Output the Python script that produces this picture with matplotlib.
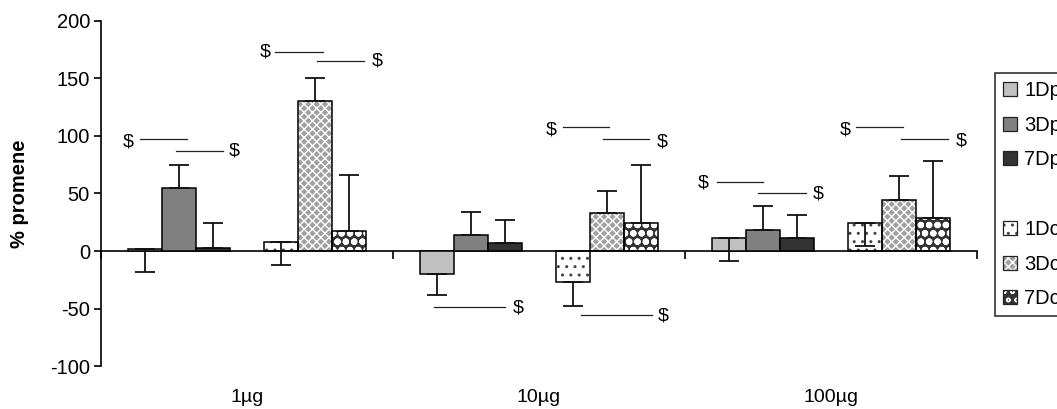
import numpy as np
import matplotlib.pyplot as plt
from matplotlib.patches import Patch

plt.rcParams['font.family'] = ['Liberation Sans', 'DejaVu Sans']
plt.rcParams['axes.unicode_minus'] = False

groups = ['1µg', '10µg', '100µg']
series = ['1Dp', '3Dp', '7Dp', '', '1Dc', '3Dc', '7Dc']

# mean % change and error per series (blank series keeps the gap)
d1p = [1.5, -20, 11]
d3p = [55, 14, 18]
d7p = [3, 7, 11]
blank = [0, 0, 0]
d1c = [8, -27, 24]
d3c = [130, 33, 44]
d7c = [17, 24, 29]

e1p = [20, 18.5, 20]
e3p = [20, 20, 21]
e7p = [21, 20, 20]
e1c = [20, 20.5, 20]
e3c = [20, 19, 21]
e7c = [49, 51, 49.5]

values = [d1p, d3p, d7p, blank, d1c, d3c, d7c]
errors = [e1p, e3p, e7p, None, e1c, e3c, e7c]
err_down = [True, False, False, False, True, False, False]

# significance marks: lines (x0, x1, y) and "$" labels (x, y)
sig_lines = [
    (0.134, 0.295, 97.4), (0.257, 0.418, 87),
    (0.596, 0.760, 173), (0.740, 0.901, 165),
    (1.140, 1.384, -48.7),
    (1.582, 1.740, 107.8), (1.719, 1.877, 97.4),
    (1.644, 1.887, -55.7),
    (2.110, 2.267, 60), (2.250, 2.414, 50.4),
    (2.586, 2.747, 107.8), (2.740, 2.901, 97.4),
]
sig_marks = [
    (0.092, 94.8), (0.455, 87),
    (0.562, 173), (0.945, 165),
    (1.428, -49.6),
    (1.541, 105), (1.921, 94.8),
    (1.925, -56.5),
    (2.062, 59), (2.455, 49.6),
    (2.548, 105), (2.945, 95.7),
]

# fill styles: (face, hatch, hatch colour, hatch width)
styles = [
    ('#c0c0c0', None, None, 1.0),
    ('#808080', None, None, 1.0),
    ('#333333', None, None, 1.0),
    ('none', None, None, 1.0),
    ('white', '..', '#444444', 1.0),
    ('#a0a0a0', 'xxxx', 'white', 1.0),
    ('#333333', 'oo', 'white', 2.2),
]

fig = plt.figure(figsize=(10.57, 4.09), dpi=100)
ax = fig.add_axes([0.0956, 0.1051, 0.8287, 0.8436])

x = np.arange(len(groups)) + 0.5
w = 0.1164
handles = []
for i, name in enumerate(series):
    pos = x + (i - 3) * w
    face, hatch, hcol, hlw = styles[i]
    if name == '':
        handles.append(Patch(facecolor='none', edgecolor='none'))
        continue
    if hatch:
        with plt.rc_context({'hatch.linewidth': hlw}):
            ax.bar(pos, values[i], width=w, color=face, hatch=hatch,
                   edgecolor=hcol, linewidth=0, zorder=2)
            fill = Patch(facecolor=face, hatch=hatch, edgecolor=hcol, linewidth=0)
        ax.bar(pos, values[i], width=w, fill=False, edgecolor='black',
               linewidth=1.1, zorder=3)
        border = Patch(fill=False, edgecolor='#222222', linewidth=0.9)
        handles.append((fill, border))
    else:
        ax.bar(pos, values[i], width=w, color=face, edgecolor='black',
               linewidth=1.1, zorder=3)
        handles.append(Patch(facecolor=face, edgecolor='#222222', linewidth=0.9))
    err = np.array(errors[i])
    zero = np.zeros_like(err)
    yerr = [err, zero] if err_down[i] else [zero, err]
    ax.errorbar(pos, values[i], yerr=yerr, fmt='none', ecolor='#111111',
                elinewidth=1.3, capsize=7.5, capthick=1.3, zorder=4)

for x0, x1, yy in sig_lines:
    ax.plot([x0, x1], [yy, yy], color='#222222', linewidth=0.9, zorder=5)
for xx, yy in sig_marks:
    ax.text(xx, yy, '$', fontsize=14, ha='center', va='center', zorder=5)

ax.set_xlim(0, 3)
ax.set_ylim(-100, 200)
ax.set_yticks([-100, -50, 0, 50, 100, 150, 200])
ax.set_xticks([0, 1, 2, 3])
ax.set_xticklabels([])

for s in ['top', 'right']:
    ax.spines[s].set_visible(False)
ax.spines['bottom'].set_position(('data', 0))
ax.spines['bottom'].set_linewidth(1.2)
ax.spines['left'].set_linewidth(1.2)
ax.tick_params(axis='y', direction='out', length=5, width=1.2, labelsize=14.5, pad=3)
ax.tick_params(axis='x', direction='out', length=6, width=1.2)

for xi, g in zip(x, groups):
    ax.text(xi, -0.09, g, transform=ax.get_xaxis_transform(), fontsize=14,
            ha='center', va='center')

ax.set_ylabel('% promene', fontsize=14.5, fontweight='bold', labelpad=15)

leg = fig.legend(handles, series, loc='upper left',
                 bbox_to_anchor=(0.9413, 0.8215), fontsize=14.5,
                 handlelength=0.7, handleheight=0.7, handletextpad=0.35,
                 labelspacing=0.78, borderpad=0.4, borderaxespad=0,
                 frameon=True, fancybox=False)
leg.get_frame().set_edgecolor('black')
leg.get_frame().set_linewidth(1.2)

fig.savefig('out.png', dpi=100)
